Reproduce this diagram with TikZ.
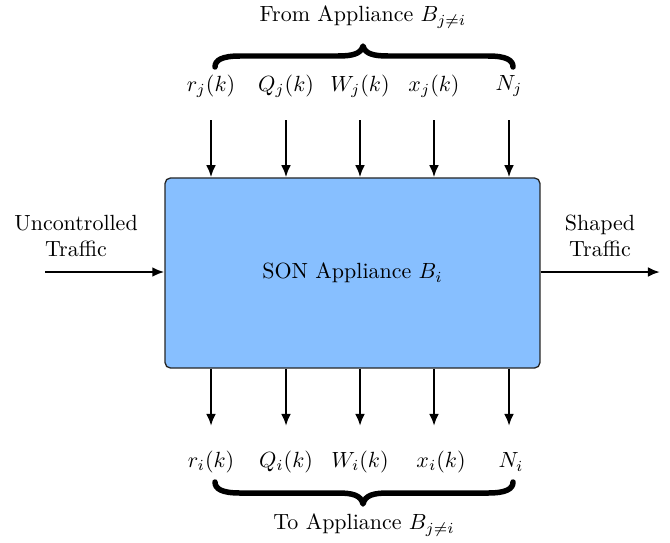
\documentclass[tikz,border=0pt]{standalone}
\usetikzlibrary{arrows.meta,calc}
\definecolor{boxblue}{RGB}{135,191,255}
\begin{document}
\begin{tikzpicture}[x=0.455pt,y=-0.455pt,
  arr/.style={-{Latex[length=5.5pt,width=4.5pt]},line width=1.1pt},
  bracestyle/.style={line width=2.5pt,line cap=round,line join=round},
  lbl/.style={inner sep=1pt}]
\useasboundingbox (0,0) rectangle (670,542);
\node[draw=black!85,line width=0.6pt,fill=boxblue,rounded corners=2.5pt,minimum width=170.6pt,minimum height=86.5pt,inner sep=0pt] (box) at (352.5,273) {SON Appliance $B_i$};
% top labels
\node[lbl] (rj) at (211,86) {$r_j(k)$};
\node[lbl] (qj) at (286,86) {$Q_j(k)$};
\node[lbl] (wj) at (360,86) {$W_j(k)$};
\node[lbl] (xj) at (434,86) {$x_j(k)$};
\node[lbl] (nj) at (509,86) {$N_j$};
\foreach \n/\x in {a/211,b/286,c/360,d/434,e/509}{
  \coordinate (ts\n) at (\x,120);
  \draw[arr] (ts\n) -- (ts\n |- box.north);
  \coordinate (bs\n) at (\x,426);
  \draw[arr] (bs\n |- box.south) -- (bs\n);
}
% bottom labels
\node[lbl] (ri) at (211,462) {$r_i(k)$};
\node[lbl] (qi) at (286,462) {$Q_i(k)$};
\node[lbl] (wi) at (360,462) {$W_i(k)$};
\node[lbl] (xi) at (441,462) {$x_i(k)$};
\node[lbl] (ni) at (511,462) {$N_i$};
% braces
\coordinate (tb1) at (215,67);
\coordinate (tb2) at (513,67);
\coordinate (ttip) at (363,46);
\draw[bracestyle] (tb1) .. controls (215,60) and (222,56) .. (240,56) -- (338,56)
  .. controls (352,56) and (361,54) .. (ttip)
  .. controls (365,54) and (374,56) .. (388,56) -- (488,56)
  .. controls (506,56) and (513,60) .. (tb2);
\node (from) at (363,17) {From Appliance $B_{j\neq i}$};
\coordinate (bb1) at (215,482);
\coordinate (bb2) at (513,482);
\coordinate (btip) at (363,504);
\draw[bracestyle] (bb1) .. controls (215,489) and (222,493) .. (240,493) -- (338,493)
  .. controls (352,493) and (361,495) .. (btip)
  .. controls (365,495) and (374,493) .. (388,493) -- (488,493)
  .. controls (506,493) and (513,489) .. (bb2);
\node (to) at (364,525) {To Appliance $B_{j\neq i}$};
% side
\node[align=center] (unc) at (76,236) {Uncontrolled\\Traffic};
\coordinate (lin) at (45,272);
\draw[arr] (lin) -- (lin -| box.west);
\node[align=center] (shp) at (600,236) {Shaped\\Traffic};
\coordinate (rout) at (660,272);
\draw[arr] (rout -| box.east) -- (rout);
\end{tikzpicture}
\end{document}
